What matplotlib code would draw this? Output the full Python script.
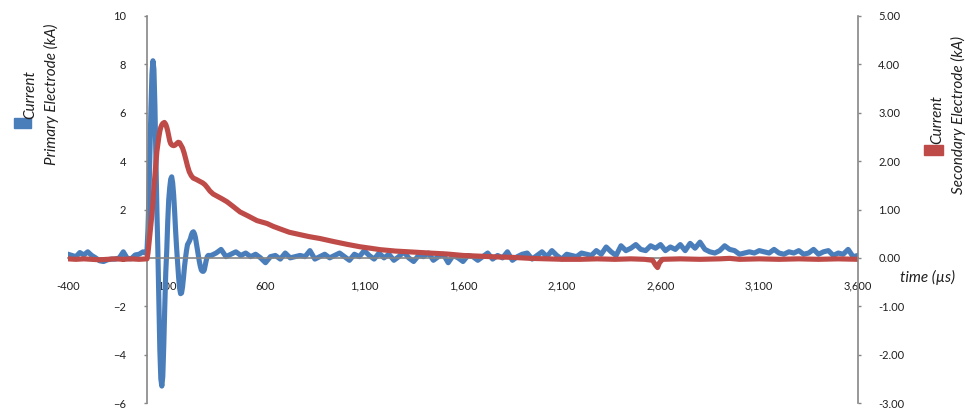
import matplotlib
matplotlib.use("Agg")
import matplotlib.pyplot as plt
from matplotlib.patches import Rectangle

plt.rcParams['font.family'] = ['Lato', 'DejaVu Sans']

# primary electrode current (kA), left axis
primary_t = [-400, -380, -360, -340, -320, -300, -280, -260, -240, -220,
             -200, -180, -160, -140, -120, -100, -80, -60, -40, -20, -10,
             0, 5, 10, 15, 20, 25, 30, 35, 40, 45, 50, 55, 60, 65, 70, 75,
             80, 85, 90, 95, 100, 105, 110, 115, 120, 125, 130, 135, 140,
             145, 150, 155, 160, 165, 170, 175, 180, 185, 190, 195, 200,
             205, 210, 215, 220, 225, 230, 235, 240, 245, 250, 255, 260,
             265, 270, 275, 280, 285, 290, 295, 300, 305, 310,
             325, 350, 375, 400, 425, 450, 475, 500, 525, 550, 575,
             600, 625, 650, 675, 700, 725, 750, 775, 800, 825, 850,
             875, 900, 925, 950, 975, 1000, 1025, 1050, 1075, 1100, 1125,
             1150, 1175, 1200, 1225, 1250, 1275, 1300, 1325, 1350, 1375, 1400,
             1425, 1450, 1475, 1500, 1525, 1550, 1575, 1600, 1625, 1650, 1675,
             1700, 1725, 1750, 1775, 1800, 1825, 1850, 1875, 1900, 1925, 1950,
             1975, 2000, 2025, 2050, 2075, 2100, 2125, 2150, 2175, 2200, 2225,
             2250, 2275, 2300, 2325, 2350, 2375, 2400, 2425, 2450, 2475, 2500,
             2525, 2550, 2575, 2600, 2625, 2650, 2675, 2700, 2725, 2750, 2775,
             2800, 2825, 2850, 2875, 2900, 2925, 2950, 2975, 3000, 3025, 3050,
             3075, 3100, 3125, 3150, 3175, 3200, 3225, 3250, 3275, 3300, 3325,
             3350, 3375, 3400, 3425, 3450, 3475, 3500, 3525, 3550, 3575, 3600]
primary_kA = [0.15, 0.1, 0.05, 0.22, 0.12, 0.25, 0.1, 0.0, -0.12, -0.15,
              -0.08, -0.05, -0.05, 0.0, 0.25, -0.02, -0.04, 0.12, 0.15, 0.25, 0.2,
              0.3, 1.2, 2.6, 4.4, 6.2, 7.6, 8.15, 7.8, 6.3, 4.2, 2.0, 0.3,
              -1.8, -3.8, -5.0, -5.3, -4.9, -3.6, -2.0, -0.6, 0.3, 1.5, 2.4,
              2.9, 3.25, 3.35, 3.1, 2.6, 1.9, 1.1, 0.4, -0.2, -0.8, -1.25,
              -1.48, -1.45, -1.2, -0.8, -0.35, 0.0, 0.3, 0.55, 0.62, 0.7, 0.8,
              0.95, 1.05, 1.08, 1.0, 0.85, 0.6, 0.35, 0.1, -0.15, -0.35, -0.5,
              -0.55, -0.56, -0.5, -0.3, -0.1, 0.05, 0.1,
              0.1, 0.2, 0.35, 0.05, 0.15, 0.25, 0.1, 0.2, 0.05, 0.15, 0.0,
              -0.2, 0.05, 0.1, -0.05, 0.2, 0.0, 0.05, 0.1, 0.05, 0.3, -0.05,
              0.05, 0.15, 0.0, 0.1, 0.2, 0.05, -0.1, 0.15, 0.05, 0.3, 0.1,
              -0.05, 0.2, 0.0, 0.15, -0.1, 0.05, 0.25, 0.0, -0.15, 0.1, 0.05,
              0.2, -0.1, 0.05, 0.15, -0.2, 0.1, 0.0, -0.15, 0.1, 0.05, -0.1,
              0.05, 0.2, -0.05, 0.1, 0.0, 0.25, -0.1, 0.05, 0.15, 0.2, -0.05,
              0.1, 0.25, 0.05, 0.3, 0.1, -0.05, 0.15, 0.1, 0.05, 0.2, 0.15,
              0.1, 0.3, 0.15, 0.45, 0.25, 0.1, 0.5, 0.3, 0.4, 0.55, 0.35,
              0.3, 0.5, 0.4, 0.55, 0.3, 0.45, 0.35, 0.55, 0.3, 0.6, 0.4,
              0.65, 0.35, 0.25, 0.2, 0.3, 0.5, 0.35, 0.3, 0.15, 0.2, 0.25,
              0.2, 0.3, 0.25, 0.2, 0.35, 0.2, 0.15, 0.25, 0.2, 0.3, 0.15,
              0.2, 0.35, 0.15, 0.25, 0.3, 0.1, 0.2, 0.15, 0.35, 0.05, 0.1]

# secondary electrode current (kA), right axis
secondary_t = [-400, -360, -320, -280, -240, -200, -160, -120, -80, -40, 0,
               5, 10, 15, 20, 25, 30, 35, 40, 45, 50, 55, 60, 65, 70, 75, 80,
               88, 95, 100, 105, 110, 115, 120, 127, 135, 142, 150, 158, 165,
               172, 180, 188, 197, 205, 214, 224, 234, 250, 268, 282, 294,
               306, 319, 335, 353, 380, 405, 440, 471, 510, 557, 608, 640,
               673, 720, 775, 820, 876, 942, 1013, 1078, 1130, 1180, 1260,
               1347, 1430, 1519, 1600, 1686, 1770, 1853, 1940, 2025, 2110,
               2192, 2280, 2370, 2450, 2520, 2560, 2575, 2585, 2595, 2610,
               2700, 2800, 2900, 2950, 3000, 3100, 3200, 3300, 3400, 3500, 3600]
secondary_kA = [-0.02, -0.03, -0.02, -0.03, -0.04, -0.03, -0.02, -0.03, -0.02, -0.03, -0.02,
                0.1, 0.3, 0.5, 0.7, 0.9, 1.15, 1.45, 1.7, 1.95, 2.2, 2.35, 2.5,
                2.62, 2.7, 2.75, 2.78, 2.8, 2.76, 2.7, 2.62, 2.52, 2.42, 2.36,
                2.33, 2.32, 2.33, 2.36, 2.39, 2.38, 2.33, 2.27, 2.17, 2.03,
                1.9, 1.78, 1.7, 1.65, 1.62, 1.58, 1.55, 1.51, 1.45, 1.38,
                1.32, 1.28, 1.22, 1.16, 1.05, 0.95, 0.87, 0.77, 0.71, 0.65,
                0.6, 0.53, 0.48, 0.44, 0.4, 0.34, 0.28, 0.23, 0.2, 0.17, 0.14,
                0.12, 0.1, 0.08, 0.05, 0.035, 0.02, 0.01, -0.01, -0.02, -0.03,
                -0.03, -0.02, -0.03, -0.02, -0.03, -0.05, -0.15, -0.2, -0.1, -0.03,
                -0.02, -0.03, -0.02, -0.01, -0.03, -0.02, -0.03, -0.02, -0.03, -0.02, -0.03]

x_ticks = list(range(-400, 3601, 500))
left_ticks = list(range(-6, 11, 2))
right_ticks = list(range(-3, 6))

blue = "#4A7EBB"
red = "#BE4B48"
grey = "#868686"
txt = "#1f1f1f"
W, H = 965, 409

fig = plt.figure(figsize=(W / 100, H / 100), dpi=100)
# axes box: y from 16 px (top) to 403 px, x from -400 at 68 px to 3600 at 858 px
ax = fig.add_axes([68 / W, 6 / H, 790 / W, 387 / H])

ax.plot(primary_t, primary_kA, color=blue, lw=3.7, solid_joinstyle="round")
ax.set_xlim(-400, 3600)
ax.set_ylim(-6, 10)
ax.set_xticks(x_ticks)
ax.set_xticklabels([f"{v:,}" for v in x_ticks])
ax.set_yticks(left_ticks)

ax.spines["left"].set_position(("data", 0))
ax.spines["bottom"].set_position(("data", 0))
ax.spines["top"].set_visible(False)
ax.spines["right"].set_visible(False)
for s in ("left", "bottom"):
    ax.spines[s].set_color(grey)
    ax.spines[s].set_linewidth(1.2)
ax.tick_params(axis="x", length=0, pad=16.5, labelsize=8, labelcolor=txt)
ax.tick_params(axis="y", direction="out", length=2.5, width=1, color=grey,
               pad=12.5, labelsize=8, labelcolor=txt)

ax2 = ax.twinx()
ax2.plot(secondary_t, secondary_kA, color=red, lw=3.7, solid_joinstyle="round")
ax2.set_ylim(-3, 5)
ax2.set_yticks(right_ticks)
ax2.set_yticklabels([f"{v:.2f}" for v in right_ticks])
for s in ("left", "top", "bottom"):
    ax2.spines[s].set_visible(False)
ax2.spines["right"].set_color(grey)
ax2.spines["right"].set_linewidth(1.2)
ax2.tick_params(axis="y", direction="out", length=2.5, width=1, color=grey,
                pad=12, labelsize=8, labelcolor=txt)

# rotated legend-like axis titles
def fx(px):
    return px / W

def fy(py):
    return 1 - py / H

fig.add_artist(Rectangle((fx(14), fy(128)), 17 / W, 10 / H, color=blue,
                         transform=fig.transFigure))
fig.text(fx(30), fy(119), "Current", rotation=90, ha="center", va="bottom",
         style="italic", fontsize=11, color=txt)
fig.text(fx(51), fy(94), "Primary Electrode (kA)", rotation=90, ha="center",
         va="center", style="italic", fontsize=11, color=txt)

fig.add_artist(Rectangle((fx(924), fy(155)), 19 / W, 10 / H, color=red,
                         transform=fig.transFigure))
fig.text(fx(937), fy(144), "Current", rotation=90, ha="center", va="bottom",
         style="italic", fontsize=11, color=txt)
fig.text(fx(958), fy(115), "Secondary Electrode (kA)", rotation=90,
         ha="center", va="center", style="italic", fontsize=11, color=txt)

fig.text(fx(927), fy(277), "time (µs)", ha="center", va="center",
         style="italic", fontsize=11, color=txt)

fig.savefig("out.png", dpi=100)
